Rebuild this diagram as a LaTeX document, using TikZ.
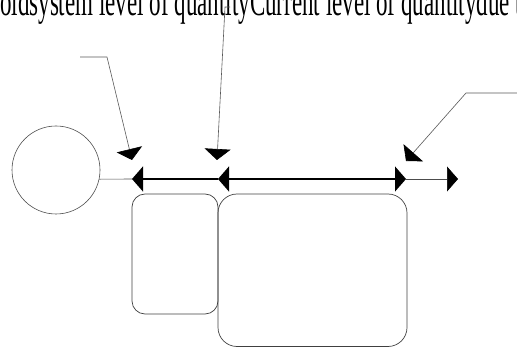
\documentclass[tikz,border=0pt]{standalone}
\usepackage{fontspec}
\setmainfont{Liberation Serif}
\usetikzlibrary{arrows.meta}
\begin{document}
\begin{tikzpicture}[x=1pt,y=-1pt,
  leader/.style={draw=black!65,line width=0.6pt,
    -{Triangle[length=11pt,width=26pt,color=black]}},
  axisthin/.style={draw=black!70,line width=0.6pt},
  axisthick/.style={draw=black,line width=1.2pt},
  tipL/.style={-{Triangle[length=11pt,width=25pt,color=black]}},
  panel/.style={draw=black!75,line width=0.7pt},
  caption/.style={anchor=base west,inner sep=0pt}]
\useasboundingbox (0,0) rectangle (517,347);
\clip (0,0) rectangle (517,347);

% heading text
\node[caption] (title) at (0,15.5) {\scalebox{1}[1.8]{\fontsize{23}{27}\selectfont oldsystem level of quantityCurrent level of quantitydue to}};

% source circle
\node[circle,draw=black!70,line width=0.6pt,minimum size=88pt,inner sep=0pt] (src) at (56,170) {};

% points on the quantity axis
\coordinate (A) at (132,179);
\coordinate (B) at (218,179);
\coordinate (C) at (406,179);
\coordinate (D) at (458,179);

% axis
\draw[axisthin] (src.-12) -- (A);
\draw[axisthick,tipL] (B) -- (A);
\draw[axisthick,{Triangle[length=11pt,width=25pt]}-{Triangle[length=11pt,width=25pt]}] (B) -- (C);
\draw[axisthin,tipL] (C) -- (D);

% leaders with markers
\coordinate (l1s) at (80,57);
\coordinate (l1k) at (107,57);
\coordinate (l1e) at (132,160);
\draw[leader] (l1s) -- (l1k) -- (l1e);

\coordinate (l2s) at (230,7);
\coordinate (l2k) at (225,7);
\coordinate (l2e) at (217,160);
\draw[leader] (l2s) -- (l2k) -- (l2e);

\coordinate (l3s) at (517,93);
\coordinate (l3k) at (466,93);
\coordinate (l3e) at (406,161);
\draw[leader] (l3s) -- (l3k) -- (l3e);

% panels below the axis
\draw[panel,rounded corners=13pt] (132,194) rectangle (218,314);
\draw[panel,rounded corners=19pt] (218,194) rectangle (407,346.5);
\end{tikzpicture}
\end{document}
